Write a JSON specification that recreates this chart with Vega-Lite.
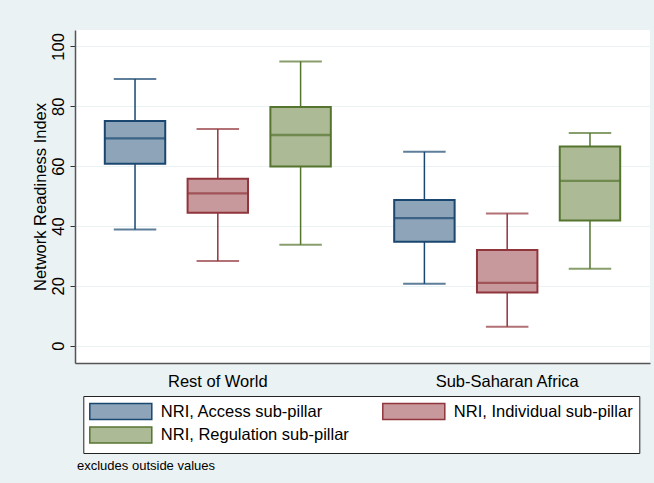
{
  "$schema": "https://vega.github.io/schema/vega-lite/v6.json",
  "width": 575,
  "height": 333,
  "autosize": {"type": "none"},
  "padding": {"left": 75, "top": 30, "right": 4, "bottom": 120},
  "background": "#EAF2F3",
  "config": {
    "view": {"fill": "white", "stroke": null},
    "font": "Liberation Sans",
    "legend": {
      "orient": "none",
      "legendX": 8.3,
      "legendY": 366,
      "columns": 2,
      "columnPadding": 30,
      "rowPadding": 1.4,
      "padding": 6.5,
      "fillColor": "white",
      "strokeColor": "#222222",
      "symbolType": "M-3.875,-1h7.75v2h-7.75Z",
      "symbolSize": 256,
      "symbolStrokeWidth": 1.5,
      "symbolOffset": 22,
      "labelOffset": 31,
      "labelFontSize": 16.5,
      "labelLimit": 400,
      "labelColor": "#000000"
    }
  },
  "title": {
    "text": "excludes outside values",
    "orient": "bottom",
    "anchor": "start",
    "frame": "group",
    "fontSize": 13,
    "fontWeight": "normal",
    "color": "#000000",
    "offset": 6,
    "dx": 2
  },
  "data": {
    "values": [
      {"group": "Rest of World", "series": "NRI, Access sub-pillar", "lo": 38.8, "q1": 60.8, "med": 69.3, "q3": 75.1, "hi": 89.1},
      {"group": "Rest of World", "series": "NRI, Individual sub-pillar", "lo": 28.3, "q1": 44.4, "med": 50.9, "q3": 55.8, "hi": 72.4},
      {"group": "Rest of World", "series": "NRI, Regulation sub-pillar", "lo": 33.7, "q1": 59.9, "med": 70.4, "q3": 79.8, "hi": 95.0},
      {"group": "Sub-Saharan Africa", "series": "NRI, Access sub-pillar", "lo": 20.7, "q1": 34.7, "med": 42.6, "q3": 48.7, "hi": 64.8},
      {"group": "Sub-Saharan Africa", "series": "NRI, Individual sub-pillar", "lo": 6.3, "q1": 17.8, "med": 21.0, "q3": 32.0, "hi": 44.2},
      {"group": "Sub-Saharan Africa", "series": "NRI, Regulation sub-pillar", "lo": 25.7, "q1": 41.8, "med": 55.1, "q3": 66.6, "hi": 71.1}
    ]
  },
  "encoding": {
    "x": {
      "field": "group",
      "type": "nominal",
      "title": null,
      "scale": {"paddingInner": 0.219, "paddingOuter": 0.103},
      "axis": {
        "labelAngle": 0,
        "labelFontSize": 16.5,
        "labelColor": "#000000",
        "ticks": false,
        "tickSize": 0,
        "labelPadding": 10,
        "domainColor": "#555555",
        "domainWidth": 1.5,
        "grid": false
      }
    },
    "xOffset": {
      "field": "series",
      "type": "nominal",
      "scale": {"paddingInner": 0.27, "paddingOuter": 0}
    }
  },
  "layer": [
    {
      "mark": {"type": "rule", "strokeWidth": 1.5},
      "encoding": {
        "y": {
          "field": "lo",
          "type": "quantitative",
          "title": "Network Readiness Index",
          "scale": {"domain": [-5.8, 105.5], "nice": false, "zero": false},
          "axis": {
            "values": [0, 20, 40, 60, 80, 100],
            "labelAngle": -90,
            "labelAlign": "center",
            "labelBaseline": "bottom",
            "labelFontSize": 16.5,
            "labelColor": "#000000",
            "labelPadding": 4,
            "tickSize": 5,
            "tickColor": "#333333",
            "tickWidth": 1,
            "domainColor": "#555555",
            "domainWidth": 1.5,
            "grid": true,
            "gridColor": "#EAF2F3",
            "gridWidth": 1,
            "titleFontSize": 16.5,
            "titleFontWeight": "normal",
            "titleColor": "#000000",
            "titlePadding": 2
          }
        },
        "y2": {"field": "hi"},
        "stroke": {
          "field": "series",
          "type": "nominal",
          "scale": {
            "domain": ["NRI, Access sub-pillar", "NRI, Regulation sub-pillar", "NRI, Individual sub-pillar"],
            "range": ["#1A476F", "#55752F", "#90353B"]
          },
          "legend": {"title": null}
        }
      }
    },
    {
      "mark": {"type": "bar", "strokeWidth": 2},
      "encoding": {
        "y": {"field": "q1", "type": "quantitative"},
        "y2": {"field": "q3"},
        "fill": {
          "field": "series",
          "type": "nominal",
          "scale": {
            "domain": ["NRI, Access sub-pillar", "NRI, Regulation sub-pillar", "NRI, Individual sub-pillar"],
            "range": ["#8DA4B9", "#ACBA96", "#C8999C"]
          },
          "legend": {
            "title": null,
            "encoding": {
              "symbols": {
                "update": {
                  "stroke": {"scale": "stroke", "field": "value"},
                  "strokeWidth": {"value": 1.5}
                }
              }
            }
          }
        },
        "stroke": {"field": "series", "type": "nominal", "legend": {"title": null}}
      }
    },
    {
      "mark": {"type": "tick", "filled": false, "thickness": 0.5, "strokeWidth": 1.8, "size": 59},
      "encoding": {
        "y": {"field": "med", "type": "quantitative"},
        "stroke": {"field": "series", "type": "nominal", "legend": {"title": null}}
      }
    },
    {
      "mark": {"type": "tick", "filled": false, "thickness": 0.5, "strokeWidth": 1.5, "size": 41},
      "encoding": {
        "y": {"field": "lo", "type": "quantitative"},
        "stroke": {"field": "series", "type": "nominal", "legend": {"title": null}}
      }
    },
    {
      "mark": {"type": "tick", "filled": false, "thickness": 0.5, "strokeWidth": 1.5, "size": 41},
      "encoding": {
        "y": {"field": "hi", "type": "quantitative"},
        "stroke": {"field": "series", "type": "nominal", "legend": {"title": null}}
      }
    }
  ]
}
